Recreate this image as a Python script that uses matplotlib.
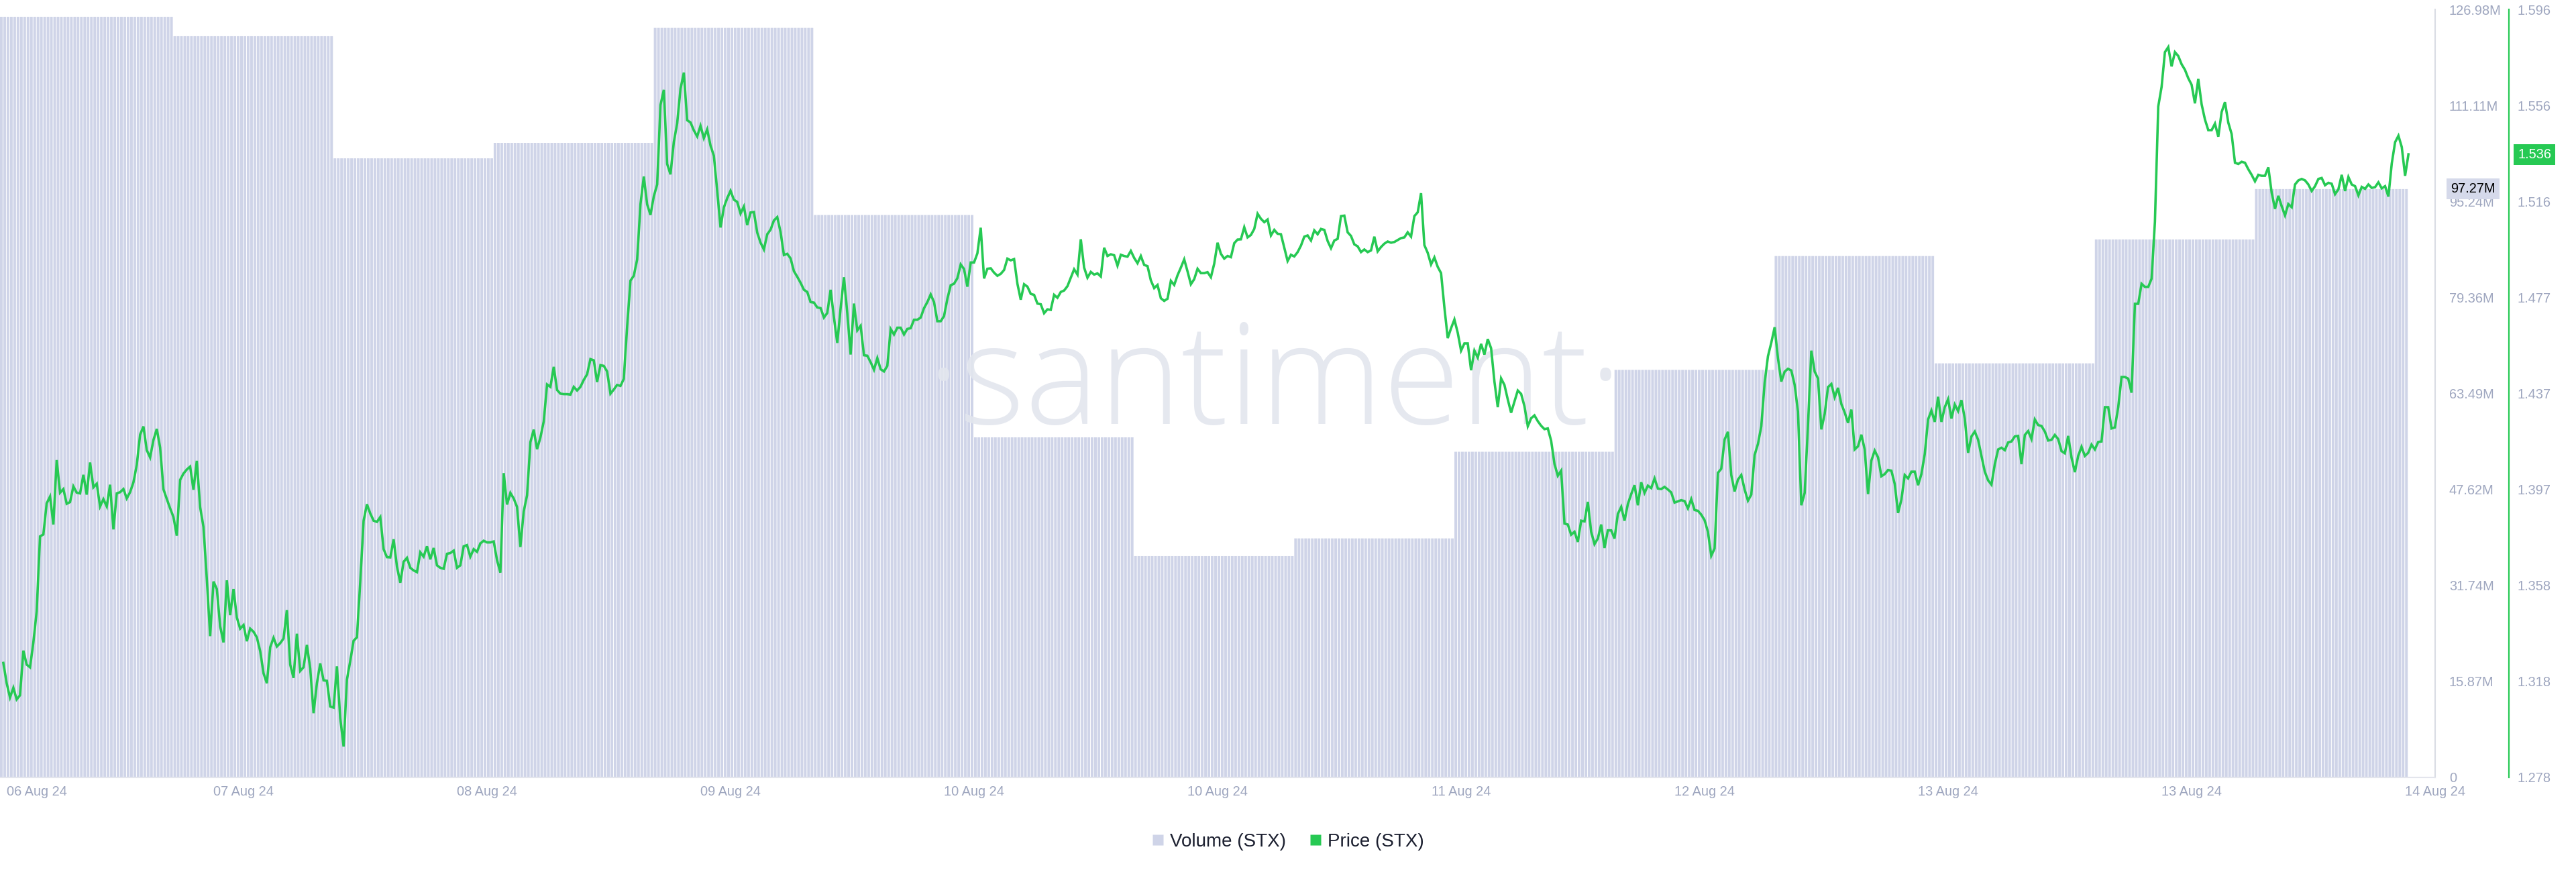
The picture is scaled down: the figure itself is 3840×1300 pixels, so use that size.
import numpy as np
import pandas as pd
import matplotlib
matplotlib.use('Agg')
import matplotlib.pyplot as plt
import matplotlib.dates as mdates
from matplotlib.lines import Line2D
from matplotlib.transforms import blended_transform_factory, ScaledTranslation

plt.rcParams['font.family'] = ['Liberation Sans', 'DejaVu Sans']

# time axis: 15 min samples
start = pd.Timestamp('2024-08-06 23:00')
step = pd.Timedelta('15min')
first_bucket_end = pd.Timestamp('2024-08-07 12:00')

# volume (STX), one value per 12h bucket
volume_stx = [125.76e6, 122.55e6, 102.36e6, 104.91e6, 123.92e6, 92.99e6, 56.23e6, 36.60e6,
              39.52e6, 53.84e6, 67.38e6, 86.20e6, 68.46e6, 88.94e6, 97.27e6]

# price (STX), 15 min closes, split in chunks of ~1.5 days
price_part1 = [
    1.3254, 1.3170, 1.3111, 1.3151, 1.3103, 1.3120, 1.3305, 1.3247, 1.3236, 1.3339,
    1.3468, 1.3778, 1.3786, 1.3915, 1.3943, 1.3827, 1.4094, 1.3959, 1.3974, 1.3913,
    1.3920, 1.3985, 1.3959, 1.3956, 1.4033, 1.3951, 1.4084, 1.3981, 1.3996, 1.3902,
    1.3932, 1.3902, 1.3992, 1.3807, 1.3956, 1.3961, 1.3974, 1.3935, 1.3961, 1.4002,
    1.4074, 1.4199, 1.4233, 1.4135, 1.4105, 1.4177, 1.4223, 1.4146, 1.3973, 1.3933,
    1.3894, 1.3858, 1.3781, 1.4012, 1.4038, 1.4055, 1.4067, 1.3971, 1.4091, 1.3899,
    1.3817, 1.3601, 1.3365, 1.3591, 1.3560, 1.3406, 1.3339, 1.3596, 1.3452, 1.3560,
    1.3442, 1.3396, 1.3411, 1.3344, 1.3396, 1.3383, 1.3360, 1.3303, 1.3211, 1.3170,
    1.3319, 1.3358, 1.3322, 1.3336, 1.3355, 1.3473, 1.3247, 1.3192, 1.3375, 1.3221,
    1.3236, 1.3329, 1.3231, 1.3046, 1.3170, 1.3252, 1.3182, 1.3180, 1.3074, 1.3069,
    1.3240, 1.3026, 1.2908, 1.3185, 1.3262, 1.3346, 1.3360, 1.3591, 1.3843, 1.3911,
    1.3873, 1.3843, 1.3838, 1.3858, 1.3725, 1.3692, 1.3691, 1.3766, 1.3653, 1.3586,
    1.3673, 1.3689, 1.3648, 1.3637, 1.3630, 1.3712, 1.3694, 1.3737, 1.3683, 1.3730,
    1.3658, 1.3648, 1.3644, 1.3706, 1.3709, 1.3719, 1.3648, 1.3658, 1.3737, 1.3742,
    1.3694, 1.3725, 1.3714, 1.3749]
price_part2 = [
    1.3760, 1.3753, 1.3753, 1.3757, 1.3680, 1.3628, 1.4040, 1.3910, 1.3958, 1.3935,
    1.3900, 1.3734, 1.3881, 1.3948, 1.4168, 1.4220, 1.4139, 1.4187, 1.4254, 1.4407,
    1.4397, 1.4480, 1.4384, 1.4369, 1.4367, 1.4367, 1.4365, 1.4397, 1.4382, 1.4397,
    1.4426, 1.4449, 1.4512, 1.4507, 1.4417, 1.4487, 1.4484, 1.4461, 1.4369, 1.4386,
    1.4405, 1.4401, 1.4430, 1.4646, 1.4837, 1.4857, 1.4924, 1.5153, 1.5268, 1.5153,
    1.5109, 1.5186, 1.5235, 1.5564, 1.5627, 1.5320, 1.5277, 1.5411, 1.5488, 1.5631,
    1.5698, 1.5501, 1.5492, 1.5459, 1.5434, 1.5478, 1.5427, 1.5463, 1.5396, 1.5354,
    1.5210, 1.5057, 1.5140, 1.5178, 1.5209, 1.5172, 1.5163, 1.5115, 1.5144, 1.5067,
    1.5119, 1.5121, 1.5036, 1.4994, 1.4966, 1.5029, 1.5048, 1.5086, 1.5100, 1.5038,
    1.4943, 1.4948, 1.4929, 1.4876, 1.4853, 1.4828, 1.4799, 1.4790, 1.4748, 1.4746,
    1.4726, 1.4723, 1.4684, 1.4703, 1.4799, 1.4684, 1.4579, 1.4723, 1.4851, 1.4703,
    1.4531, 1.4742, 1.4631, 1.4650, 1.4528, 1.4526, 1.4499, 1.4468, 1.4516, 1.4470,
    1.4461, 1.4484, 1.4637, 1.4614, 1.4642, 1.4642, 1.4614, 1.4637, 1.4640, 1.4675,
    1.4675, 1.4684, 1.4723, 1.4748, 1.4780, 1.4748, 1.4669, 1.4669, 1.4690, 1.4761,
    1.4818, 1.4824, 1.4847, 1.4904, 1.4885]
price_part3 = [
    1.4812, 1.4912, 1.4912, 1.4950, 1.5056, 1.4846, 1.4886, 1.4888, 1.4870, 1.4857,
    1.4865, 1.4881, 1.4928, 1.4921, 1.4926, 1.4824, 1.4758, 1.4822, 1.4812, 1.4782,
    1.4778, 1.4742, 1.4739, 1.4702, 1.4718, 1.4716, 1.4778, 1.4766, 1.4790, 1.4796,
    1.4814, 1.4849, 1.4884, 1.4862, 1.5008, 1.4891, 1.4849, 1.4873, 1.4862, 1.4867,
    1.4854, 1.4973, 1.4939, 1.4946, 1.4942, 1.4899, 1.4944, 1.4939, 1.4936, 1.4960,
    1.4931, 1.4909, 1.4939, 1.4902, 1.4897, 1.4838, 1.4806, 1.4819, 1.4764, 1.4753,
    1.4762, 1.4836, 1.4819, 1.4859, 1.4891, 1.4925, 1.4875, 1.4822, 1.4843, 1.4886,
    1.4868, 1.4868, 1.4872, 1.4851, 1.4907, 1.4994, 1.4948, 1.4928, 1.4939, 1.4934,
    1.4992, 1.5007, 1.5008, 1.5058, 1.5016, 1.5026, 1.5051, 1.5114, 1.5093, 1.5079,
    1.5090, 1.5024, 1.5047, 1.5031, 1.5029, 1.4974, 1.4918, 1.4944, 1.4937, 1.4955,
    1.4982, 1.5019, 1.5024, 1.5003, 1.5045, 1.5029, 1.5051, 1.5047, 1.5001, 1.4971,
    1.5003, 1.5010, 1.5104, 1.5106, 1.5037, 1.5022, 1.4987, 1.4979, 1.4955, 1.4966,
    1.4955, 1.4962, 1.5019, 1.4958, 1.4976, 1.4990, 1.4999, 1.4994, 1.4997, 1.5005,
    1.5013, 1.5016, 1.5037, 1.5019, 1.5104, 1.5120, 1.5199, 1.4984, 1.4952, 1.4904,
    1.4933, 1.4894, 1.4868, 1.4726, 1.4599]
price_part4 = [
    1.4640, 1.4676, 1.4621, 1.4547, 1.4577, 1.4577, 1.4466, 1.4547, 1.4518, 1.4575,
    1.4531, 1.4595, 1.4557, 1.4419, 1.4313, 1.4432, 1.4405, 1.4345, 1.4290, 1.4336,
    1.4382, 1.4368, 1.4317, 1.4234, 1.4267, 1.4279, 1.4255, 1.4236, 1.4222, 1.4225,
    1.4174, 1.4078, 1.4029, 1.4050, 1.3831, 1.3827, 1.3785, 1.3797, 1.3755, 1.3843,
    1.3840, 1.3921, 1.3797, 1.3746, 1.3769, 1.3827, 1.3730, 1.3803, 1.3803, 1.3769,
    1.3871, 1.3900, 1.3843, 1.3912, 1.3953, 1.3990, 1.3907, 1.4002, 1.3958, 1.3988,
    1.3978, 1.4018, 1.3976, 1.3974, 1.3983, 1.3972, 1.3960, 1.3918, 1.3923, 1.3928,
    1.3924, 1.3894, 1.3932, 1.3887, 1.3884, 1.3868, 1.3845, 1.3797, 1.3698, 1.3728,
    1.4041, 1.4058, 1.4179, 1.4211, 1.4032, 1.3964, 1.4013, 1.4032, 1.3972, 1.3926,
    1.3951, 1.4115, 1.4161, 1.4234, 1.4414, 1.4524, 1.4580, 1.4644, 1.4515, 1.4419,
    1.4460, 1.4472, 1.4465, 1.4405, 1.4294, 1.3907, 1.3958, 1.4239, 1.4547, 1.4460,
    1.4432, 1.4221, 1.4285, 1.4396, 1.4409, 1.4354, 1.4393, 1.4326, 1.4291, 1.4248,
    1.4303, 1.4138, 1.4151, 1.4199, 1.4138, 1.3953, 1.4092, 1.4133, 1.4105, 1.4027,
    1.4036, 1.4053, 1.4050, 1.3995, 1.3875, 1.3930, 1.4032, 1.4018, 1.4046, 1.4046,
    1.3990, 1.4036, 1.4119, 1.4262]
price_part5 = [
    1.4299, 1.4252, 1.4356, 1.4252, 1.4313, 1.4346, 1.4266, 1.4324, 1.4297, 1.4342,
    1.4266, 1.4124, 1.4192, 1.4212, 1.4178, 1.4111, 1.4046, 1.4010, 1.3992, 1.4077,
    1.4138, 1.4145, 1.4135, 1.4167, 1.4171, 1.4192, 1.4194, 1.4077, 1.4198, 1.4214,
    1.4181, 1.4262, 1.4239, 1.4235, 1.4212, 1.4175, 1.4178, 1.4198, 1.4181, 1.4131,
    1.4122, 1.4194, 1.4104, 1.4044, 1.4111, 1.4149, 1.4111, 1.4124, 1.4158, 1.4138,
    1.4169, 1.4171, 1.4313, 1.4313, 1.4225, 1.4229, 1.4313, 1.4438, 1.4438, 1.4431,
    1.4373, 1.4741, 1.4741, 1.4824, 1.4811, 1.4811, 1.4845, 1.5080, 1.5558, 1.5639,
    1.5783, 1.5804, 1.5724, 1.5783, 1.5767, 1.5733, 1.5710, 1.5675, 1.5648, 1.5571,
    1.5672, 1.5567, 1.5504, 1.5460, 1.5460, 1.5487, 1.5433, 1.5535, 1.5576, 1.5491,
    1.5444, 1.5325, 1.5320, 1.5329, 1.5325, 1.5298, 1.5275, 1.5248, 1.5275, 1.5271,
    1.5271, 1.5306, 1.5201, 1.5134, 1.5188, 1.5145, 1.5107, 1.5154, 1.5141, 1.5235,
    1.5252, 1.5258, 1.5252, 1.5235, 1.5208, 1.5228, 1.5258, 1.5262, 1.5232, 1.5242,
    1.5238, 1.5195, 1.5215, 1.5275, 1.5208, 1.5266, 1.5235, 1.5228, 1.5190, 1.5225,
    1.5217, 1.5235, 1.5221, 1.5224, 1.5244, 1.5219, 1.5228, 1.5185, 1.5322, 1.5410,
    1.5437, 1.5390, 1.5271, 1.5360]

vol_tick_labels = ['0', '15.87M', '31.74M', '47.62M', '63.49M', '79.36M', '95.24M', '111.11M', '126.98M']
price_tick_labels = ['1.278', '1.318', '1.358', '1.397', '1.437', '1.477', '1.516', '1.556', '1.596']
vol_max = 126.98e6
price_min, price_max = 1.278, 1.596
last_volume_label = '97.27M'
last_price_label = '1.536'

green = '#26c953'
bar_color = '#cfd4e8'
tick_color = '#9ea6bf'

price = np.array(price_part1 + price_part2 + price_part3 + price_part4 + price_part5)
price_times = pd.date_range(start + step, periods=len(price), freq=step)
bar_times = pd.date_range(start, periods=len(price), freq=step)
bucket = np.asarray((bar_times - first_bucket_end) // pd.Timedelta('12h')) + 1
bucket = np.clip(bucket, 0, len(volume_stx) - 1)
bar_volume = np.array(volume_stx)[bucket]

fig = plt.figure(figsize=(38.4, 13), dpi=100)
ax = fig.add_axes([0, 1 - 1159 / 1300, 3630 / 3840, 1145 / 1300])
ax.patch.set_visible(False)

ax.bar(bar_times, bar_volume, width=0.8 * 15 / 1440, align='edge', color=bar_color,
       linewidth=0, snap=False, zorder=1)
ax.set_xlim(start, start + step * 730)
ax.set_ylim(0, vol_max)

# watermark
ax.text(1900 / 3840, 1 - 632 / 1300, '\u00b7santiment\u00b7', transform=fig.transFigure,
        ha='center', va='baseline', fontsize=150, color='#e3e6ee', alpha=0.9,
        family='Open Sans', fontweight='light', zorder=2)

tick_times = pd.date_range(start, periods=11, freq='1095min')
ax.set_xticks(tick_times)
ax.xaxis.set_major_formatter(mdates.DateFormatter('%d %b %y'))
ax.tick_params(axis='x', length=0, pad=9, labelsize=14.4, labelcolor=tick_color)
first = ax.xaxis.get_major_ticks()[0].label1
first.set_horizontalalignment('left')
first.set_transform(first.get_transform() + ScaledTranslation(0.1, 0, fig.dpi_scale_trans))

for side in ['left', 'top']:
    ax.spines[side].set_visible(False)
ax.spines['right'].set_color('#d9dce4')
ax.spines['right'].set_linewidth(1.5)
ax.spines['bottom'].set_color('#e3e5ec')
ax.spines['bottom'].set_linewidth(1.5)

axp = ax.twinx()
axp.plot(price_times, price, color=green, linewidth=2.6, solid_joinstyle='miter', zorder=3)
axp.set_ylim(price_min, price_max)
axp.set_yticks(np.linspace(price_min, price_max, len(price_tick_labels)))
axp.set_yticklabels(price_tick_labels)
axp.tick_params(axis='y', length=0, pad=9, labelsize=14.4, labelcolor=tick_color)
for side in ['left', 'top', 'bottom']:
    axp.spines[side].set_visible(False)
axp.spines['right'].set_position(('axes', 3740 / 3630))
axp.spines['right'].set_color(green)
axp.spines['right'].set_linewidth(1.6)

# volume axis labels sit on the right, next to the plot (twinx moves them left)
ax.yaxis.tick_right()
ax.set_yticks(np.linspace(0, vol_max, len(vol_tick_labels)))
ax.set_yticklabels(vol_tick_labels)
ax.tick_params(axis='y', which='both', left=False, labelleft=False, right=True, labelright=True,
               length=0, pad=15, labelsize=14.4, labelcolor=tick_color)

vol_trans = blended_transform_factory(ax.transAxes, ax.transData)
ax.text(3653 / 3630, volume_stx[-1], last_volume_label, transform=vol_trans, ha='left', va='center',
        fontsize=14.4, color='black', bbox=dict(boxstyle='square,pad=0.3', fc='#d5d9ea', ec='none'),
        zorder=5)

price_trans = blended_transform_factory(axp.transAxes, axp.transData)
axp.text(3753 / 3630, price[-1], last_price_label, transform=price_trans, ha='left', va='center',
         fontsize=14.4, color='white', bbox=dict(boxstyle='square,pad=0.3', fc=green, ec='none'))

legend_items = [
    Line2D([0], [0], marker='s', linestyle='none', markersize=12.2, markerfacecolor=bar_color,
           markeredgecolor='none', label='Volume (STX)'),
    Line2D([0], [0], marker='s', linestyle='none', markersize=12.2, markerfacecolor=green,
           markeredgecolor='none', label='Price (STX)'),
]
fig.legend(handles=legend_items, loc='center', bbox_to_anchor=(0.5, 1 - 1255 / 1300), ncol=2,
           frameon=False, fontsize=20, handlelength=0.6, handletextpad=0.35, columnspacing=1.3,
           labelcolor='#1c2030')

fig.savefig('out.png', dpi=100, facecolor='white')
